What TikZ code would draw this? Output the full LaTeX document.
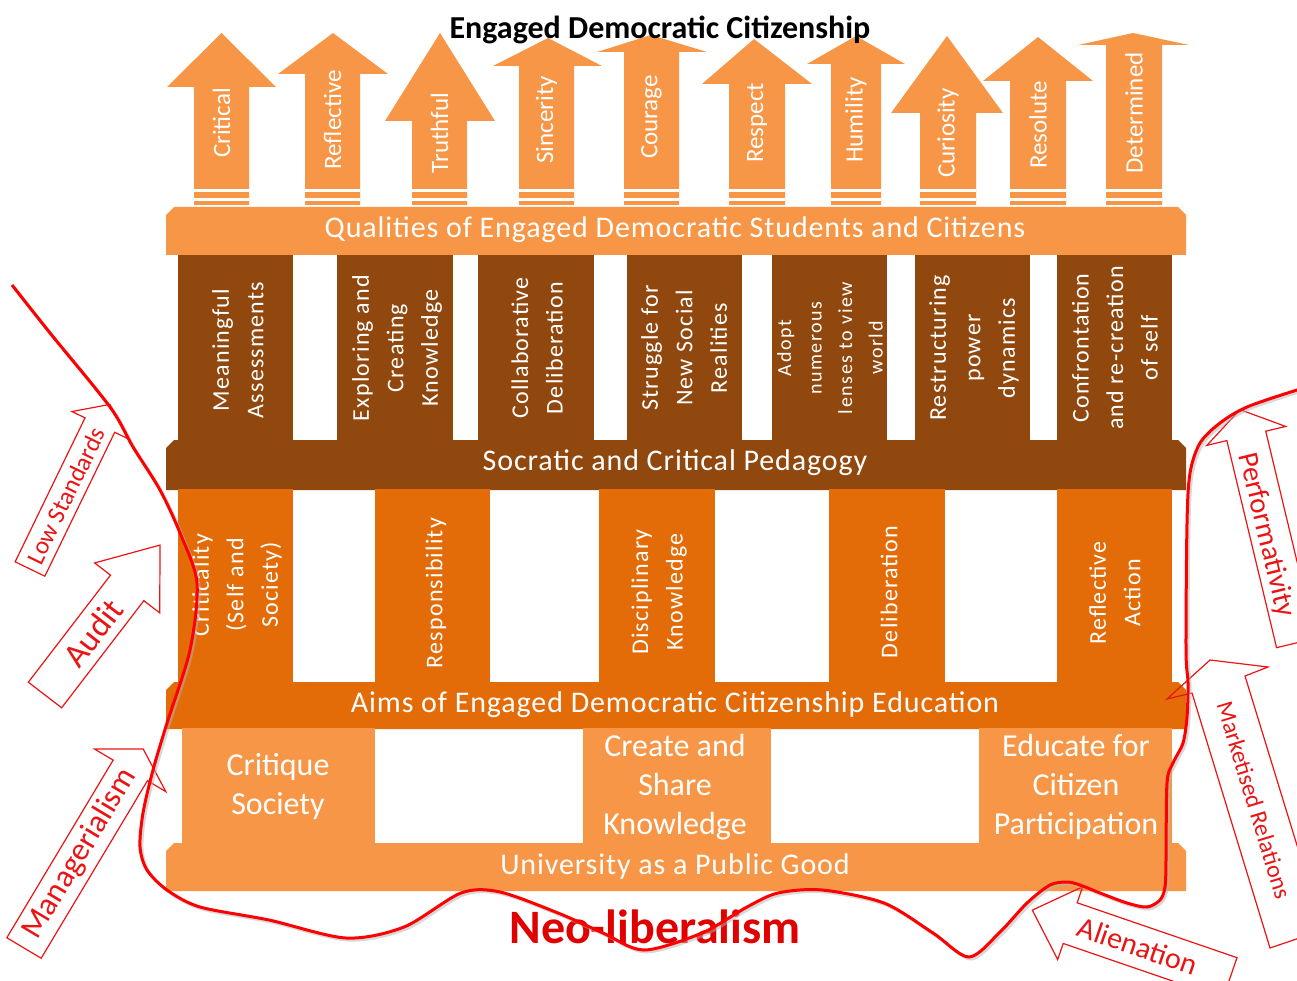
\documentclass[tikz,border=0pt]{standalone}
\usepackage{fontspec}
\setmainfont{Carlito}
\newfontfamily\spc[LetterSpace=5]{Carlito}
\newfontfamily\spcb[LetterSpace=8]{Carlito}
\newfontfamily\spcs[LetterSpace=3]{Carlito}
\usetikzlibrary{calc}
\definecolor{lor}{RGB}{247,150,70}
\definecolor{brn}{RGB}{145,72,15}
\definecolor{dor}{RGB}{227,108,9}
\definecolor{nred}{RGB}{235,20,20}
\newcommand{\redarrow}[7]{%
  \begin{scope}[shift={(#1,#2)},rotate=#3]
    \draw[rarrow] (0,{-#5/2}) -- ({#4-#7},{-#5/2}) -- ({#4-#7},{-#6/2}) -- (#4,0)
      -- ({#4-#7},{#6/2}) -- ({#4-#7},{#5/2}) -- (0,{#5/2}) -- cycle;
  \end{scope}}
\begin{document}
\begin{tikzpicture}[x=1pt,y=-1pt,
  qlabel/.style={rotate=90,text=white,font=\fontsize{25}{30}\selectfont,inner sep=0pt},
  bartext/.style={text=white,font=\spcs\fontsize{30}{36}\selectfont,inner sep=0pt},
  coltext/.style={rotate=90,text=white,align=center,font=\spc\fontsize{24}{34.5}\selectfont,inner sep=0pt},
  boxtext/.style={text=white,align=center,font=\fontsize{32}{39}\selectfont,inner sep=0pt},
  rarrow/.style={draw=nred,line width=1.2pt},
  rtext/.style={text=nred,inner sep=0pt}]
\useasboundingbox (0,0) rectangle (1297,981);
\clip (0,0) rectangle (1297,981);
\fill[white] (0,0) rectangle (1297,981);

% ---- top arrows
\foreach \tx/\ty/\by/\hl/\hr/\sl/\sr/\ly/\lab [count=\i] in {
 221.5/33/87/167/276/194/249/123/Critical,
 333/33/74/278/388/305/360/120/Reflective,
 440/33/121/385/495/412/467/133/Truthful,
 548/38/66/493/602/519/574/120/Sincerity,
 651/35/52/597/707/624/679/117/Courage,
 754/39/84/702/812/729/785/123/Respect,
 856/36/64/807/905/831/881/120/Humility,
 947/36/113/891/1003/920/976/133/Curiosity,
 1038/37/81/983/1093/1010/1066/125/Resolute,
 1133/33/45/1078/1189/1106/1162/113/Determined}
{
 \fill[lor] (\tx,\ty) -- (\hr,\by) -- (\sr,\by) -- (\sr,205) -- (\sl,205) -- (\sl,\by) -- (\hl,\by) -- cycle;
 \fill[white] (\sl,189.5) rectangle (\sr,192);
 \fill[white] (\sl,198.5) rectangle (\sr,201);
 \node[qlabel] (q\i) at ({(\sl+\sr)/2},\ly) {\lab};
}

% ---- qualities bar
\fill[lor] (166,215) -- (174,207) -- (1178,207) -- (1186,215) -- (1186,255) -- (166,255) -- cycle;
\node[bartext] (qual) at (675,230) {Qualities of Engaged Democratic Students and Citizens};

% ---- brown columns
\foreach \a/\b in {178/293,337/453,478/594,627/742,772/887,915/1030,1057/1172}
  \fill[brn] (\a,255) rectangle (\b,441);
\fill[brn] (166,448) -- (174,440) -- (1178,440) -- (1186,448) -- (1186,490) -- (166,490) -- cycle;
\node[bartext] (soc) at (675,463) {Socratic and Critical Pedagogy};
\node[coltext] (b1) at (238,350) {Meaningful\\Assessments};
\node[coltext] (b2) at (397,348) {Exploring and\\Creating\\Knowledge};
\node[coltext] (b3) at (537,348) {Collaborative\\Deliberation};
\node[coltext] (b4) at (684,348) {Struggle for\\New Social\\Realities};
\node[coltext,font=\spcb\fontsize{20}{30.5}\selectfont] (b5) at (830,348) {Adopt\\numerous\\lenses to view\\world};
\node[coltext] (b6) at (974,348) {Restructuring\\power\\dynamics};
\node[coltext] (b7) at (1115,348) {Confrontation\\and re-creation\\of self};

% ---- dark orange columns
\foreach \a/\b in {178/293,375/490,599/715,829/945,1057/1172}
  \fill[dor] (\a,489) rectangle (\b,683);
\fill[dor] (166,690) -- (174,682) -- (1178,682) -- (1186,690) -- (1186,729) -- (166,729) -- cycle;
\node[bartext] (aims) at (675,705) {Aims of Engaged Democratic Citizenship Education};
\node[coltext] (o1) at (237,585) {Criticality\\(Self and\\Society)};
\node[coltext] (o2) at (436,593) {Responsibility};
\node[coltext] (o3) at (659,592) {Disciplinary\\Knowledge};
\node[coltext] (o4) at (889,592) {Deliberation};
\node[coltext] (o5) at (1115,593) {Reflective\\Action};

% ---- bottom
\foreach \a/\b in {182/375,583/771,979/1172}
  \fill[lor] (\a,728) rectangle (\b,844);
\fill[lor] (166,851) -- (174,843) -- (1178,843) -- (1186,851) -- (1186,891) -- (166,891) -- cycle;
\node[bartext] (univ) at (675,866) {University as a Public Good};
\node[boxtext] (c1) at (278,787) {Critique\\Society};
\node[boxtext] (c2) at (675,787) {Create and\\Share\\Knowledge};
\node[boxtext] (c3) at (1076,787) {Educate for\\Citizen\\Participation};

% ---- title
\node[font=\bfseries\fontsize{32}{38}\selectfont,inner sep=0pt] (title) at (660,30) {Engaged Democratic Citizenship};

% ---- red arrows
\redarrow{30}{569}{64.1}{183}{33}{62}{23}
\node[rtext,rotate=64.1,font=\fontsize{25}{28}\selectfont] (ls) at (66,496) {Low Standards};
\redarrow{45}{695}{52.5}{189}{42}{82}{54}
\node[rtext,rotate=52.5,font=\fontsize{34}{40}\selectfont] (au) at (93,633) {Audit};
\redarrow{24}{948}{59.1}{232}{40}{83}{25}
\node[rtext,rotate=59.1,font=\fontsize{32}{38}\selectfont] (mg) at (80,854) {Managerialism};
\redarrow{1296}{643}{103.5}{240}{40}{81}{27}
\node[rtext,rotate=-76.5,font=\fontsize{29}{34}\selectfont] (pf) at (1266,535) {Performativity};
\draw[rarrow] (1167,699) -- (1210,660) -- (1268,667) -- (1245,676) -- (1323,930) -- (1270,948) -- (1192,693) -- cycle;
\node[rtext,rotate=-73,font=\fontsize{24}{28}\selectfont] (mr) at (1254,800) {Marketised Relations};
\redarrow{1230}{978}{161.05}{209}{43}{77}{40}
\node[rtext,rotate=-19,font=\fontsize{30}{36}\selectfont] (al) at (1138,946) {Alienation};

% ---- Neo-liberalism
\node[text=red!88!black,font=\bfseries\fontsize{48}{56}\selectfont,inner sep=0pt] (nl) at (655,927) {Neo-liberalism};

% ---- red curve
\def\curvepts{(12,285) (50,333) (110,407) (133,447) (160,490) (180,533) (197,583) (190,650) (167,723) (153,770) (143,813) (140,847) (147,870) (167,890) (200,907) (269,920) (346,938) (404,927) (461,893) (500,892) (558,913) (603,933) (644,950) (702,933) (747,907) (778,893) (822,890) (884,903) (933,933) (969,957) (1000,932) (1027,903) (1050,885) (1067,882) (1080,885) (1100,893) (1127,903) (1147,907) (1160,900) (1165,887) (1166,860) (1167,783) (1173,763) (1183,743) (1187,717) (1188,683) (1186,650) (1187,523) (1190,473) (1200,443) (1220,423) (1247,407) (1297,390) (1320,384)}
\draw[black!30,opacity=0.5,line width=3pt,shift={(2,2)}] plot[smooth,tension=0.5] coordinates {\curvepts};
\draw[red,line width=3pt] plot[smooth,tension=0.5] coordinates {\curvepts};
\end{tikzpicture}
\end{document}
